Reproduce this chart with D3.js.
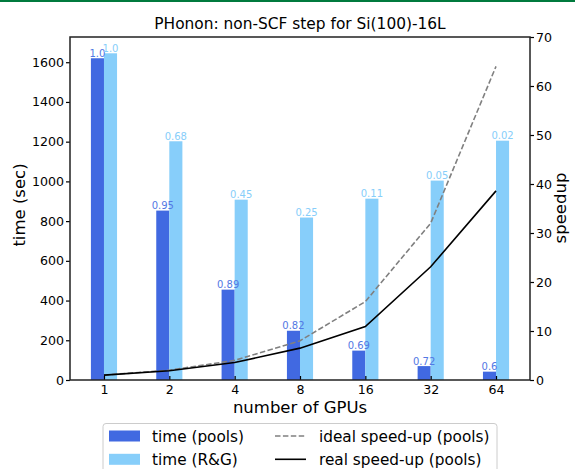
<!DOCTYPE html>
<html>
<head>
<script src="https://d3js.org/d3.v7.min.js"></script>
<style>
  body { margin: 0; background: white; }
  text { font-family: "DejaVu Sans", sans-serif; }
</style>
</head>
<body>
<svg width="575" height="469"></svg>
<script>
// data
const gpus = ["1", "2", "4", "8", "16", "32", "64"];
const timePools = [1620, 853, 455, 248, 148, 70, 42];
const timeRG = [1645, 1202, 908, 818, 913, 1004, 1205];
const labelsPools = ["1.0", "0.95", "0.89", "0.82", "0.69", "0.72", "0.6"];
const labelsRG = ["1.0", "0.68", "0.45", "0.25", "0.11", "0.05", "0.02"];
const idealSpeedup = [1, 2, 4, 8, 16, 32, 64];
const realSpeedup = [1, 1.9, 3.56, 6.5, 10.9, 23.1, 38.6];
const timeTicks = [0, 200, 400, 600, 800, 1000, 1200, 1400, 1600];
const speedTicks = [0, 10, 20, 30, 40, 50, 60, 70];

const svg = d3.select("svg");
const mLeft = 70, mRight = 530, mTop = 37, mBottom = 380;
const barW = 0.2;

const x = d3.scaleLinear().domain([-0.52, 6.52]).range([mLeft, mRight]);
const y = d3.scaleLinear().domain([0, 1727]).range([mBottom, mTop]);
const y2 = d3.scaleLinear().domain([0, 70]).range([mBottom, mTop]);

// green strip at the top
svg.append("rect").attr("x", 0).attr("y", 0).attr("width", 575).attr("height", 2).attr("fill", "#007a3d");

// bars
const bars = svg.append("g");
bars.selectAll(".pools").data(timePools).join("rect")
  .attr("class", "pools")
  .attr("x", (d, i) => x(i - barW))
  .attr("width", x(barW) - x(0))
  .attr("y", d => y(d))
  .attr("height", d => mBottom - y(d))
  .attr("fill", "#4169e1");
bars.selectAll(".rg").data(timeRG).join("rect")
  .attr("class", "rg")
  .attr("x", (d, i) => x(i))
  .attr("width", x(barW) - x(0))
  .attr("y", d => y(d))
  .attr("height", d => mBottom - y(d))
  .attr("fill", "#87cefa");

// bar labels
svg.append("g").selectAll("text").data(timePools).join("text")
  .attr("x", (d, i) => x(i - barW / 2))
  .attr("y", d => y(d) - 1.5)
  .attr("text-anchor", "middle")
  .attr("font-size", 10)
  .attr("fill", "#5378e4")
  .text((d, i) => labelsPools[i]);
svg.append("g").selectAll("text").data(timeRG).join("text")
  .attr("x", (d, i) => x(i + barW / 2))
  .attr("y", d => y(d) - 1.5)
  .attr("text-anchor", "middle")
  .attr("font-size", 10)
  .attr("fill", "#87cefa")
  .text((d, i) => labelsRG[i]);

// speedup lines
const line = d3.line().x((d, i) => x(i)).y(d => y2(d));
svg.append("path").datum(idealSpeedup).attr("d", line)
  .attr("fill", "none").attr("stroke", "#808080").attr("stroke-width", 1.6)
  .attr("stroke-dasharray", "5.5,2.4");
svg.append("path").datum(realSpeedup).attr("d", line)
  .attr("fill", "none").attr("stroke", "black").attr("stroke-width", 1.6);

// axes
const yAxis = svg.append("g").attr("transform", `translate(${mLeft},0)`)
  .call(d3.axisLeft(y).tickValues(timeTicks).tickFormat(d3.format("d")).tickSize(4).tickPadding(2));
const y2Axis = svg.append("g").attr("transform", `translate(${mRight},0)`)
  .call(d3.axisRight(y2).tickValues(speedTicks).tickFormat(d3.format("d")).tickSize(4).tickPadding(2));
const xAxis = svg.append("g").attr("transform", `translate(0,${mBottom})`)
  .call(d3.axisBottom(x).tickValues(d3.range(gpus.length)).tickFormat(i => gpus[i]).tickSize(-4).tickPadding(5));

[yAxis, y2Axis, xAxis].forEach(a => {
  a.select(".domain").remove();
  a.selectAll(".tick line").attr("stroke", "black").attr("stroke-width", 1.2);
  a.selectAll(".tick text").attr("font-size", 12.6).attr("fill", "#000")
    .attr("font-family", "DejaVu Sans, sans-serif");
});

// frame
svg.append("rect").attr("x", mLeft).attr("y", mTop).attr("width", mRight - mLeft).attr("height", mBottom - mTop)
  .attr("fill", "none").attr("stroke", "#222").attr("stroke-width", 1.5);

// titles
svg.append("text").attr("x", 300).attr("y", 29).attr("text-anchor", "middle")
  .attr("font-size", 15.4).text("PHonon: non-SCF step for Si(100)-16L");
svg.append("text").attr("x", 300).attr("y", 413).attr("text-anchor", "middle")
  .attr("font-size", 16.5).text("number of GPUs");
svg.append("text").attr("transform", `translate(25,205) rotate(-90)`)
  .attr("text-anchor", "middle").attr("font-size", 16.5).text("time (sec)");
svg.append("text").attr("transform", `translate(566,208) rotate(-90)`)
  .attr("text-anchor", "middle").attr("font-size", 16.5).text("speedup");

// legend
const lg = svg.append("g");
lg.append("rect").attr("x", 103).attr("y", 423.5).attr("width", 394).attr("height", 60)
  .attr("rx", 3).attr("fill", "white").attr("stroke", "#ccc").attr("stroke-width", 1);
const legendItems = [
  { label: "time (pools)", kind: "bar", color: "#4169e1", col: 0, row: 0 },
  { label: "time (R&G)", kind: "bar", color: "#87cefa", col: 0, row: 1 },
  { label: "ideal speed-up (pools)", kind: "dash", color: "#808080", col: 1, row: 0 },
  { label: "real speed-up (pools)", kind: "line", color: "black", col: 1, row: 1 }
];
legendItems.forEach(it => {
  const cy = 436 + it.row * 23.3;
  const x0 = it.col === 0 ? 109 : 275;
  if (it.kind === "bar") {
    lg.append("rect").attr("x", x0).attr("y", cy - 5.5).attr("width", 31).attr("height", 11).attr("fill", it.color);
  } else {
    lg.append("line").attr("x1", x0).attr("x2", x0 + 31).attr("y1", cy).attr("y2", cy)
      .attr("stroke", it.color).attr("stroke-width", 1.6)
      .attr("stroke-dasharray", it.kind === "dash" ? "5.5,2.4" : null);
  }
  lg.append("text").attr("x", x0 + (it.col === 0 ? 43 : 44)).attr("y", cy + 5.5)
    .attr("font-size", 15.3).text(it.label);
});
</script>
</body>
</html>
